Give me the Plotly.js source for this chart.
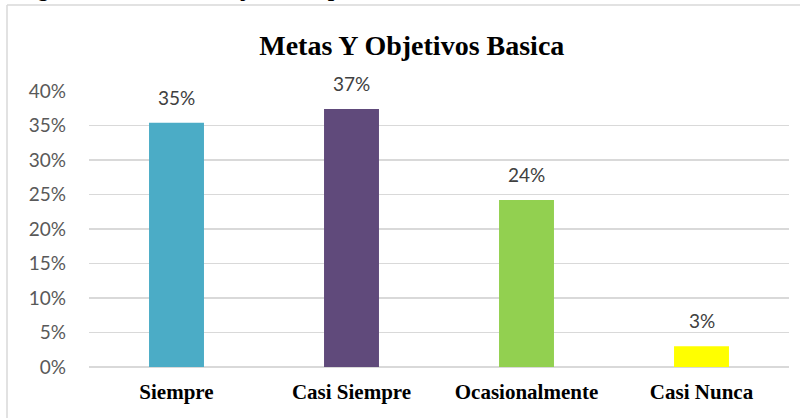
<!DOCTYPE html>
<html>
<head>
<meta charset="utf-8">
<script src="https://cdn.plot.ly/plotly-3.0.1.min.js"></script>
<style>html,body{margin:0;padding:0;background:#fff;}#chart{width:809px;height:418px;}</style>
</head>
<body>
<div id="chart"></div>
<script>
const categories = ["Siempre", "Casi Siempre", "Ocasionalmente", "Casi Nunca"];
const values = [0.354, 0.374, 0.242, 0.03];
const valueLabels = ["35%", "37%", "24%", "3%"];
const barColors = ["#4BACC6", "#604A7B", "#92D050", "#FFFF00"];
const yTickVals = [0, 0.05, 0.10, 0.15, 0.20, 0.25, 0.30, 0.35, 0.40];
const yTickText = ["0%", "5%", "10%", "15%", "20%", "25%", "30%", "35%", "40%"];
const chartTitle = "Metas Y Objetivos Basica";
const captionText = "Figura 10. Metas Y Objetivos – primaria";

const trace = {
  type: "bar",
  x: categories,
  y: values,
  marker: {color: barColors, line: {width: 0}},
  hoverinfo: "skip"
};

const labelAnnotations = categories.map((c, i) => ({
  x: c, y: values[i], xref: "x", yref: "y",
  text: valueLabels[i], showarrow: false,
  yanchor: "bottom", yshift: 12,
  font: {family: "Lato, 'Open Sans', sans-serif", size: 19, color: "#404040"}
}));

const layout = {
  width: 809, height: 418,
  margin: {l: 89, r: 20, t: 91, b: 51},
  paper_bgcolor: "#ffffff",
  plot_bgcolor: "#ffffff",
  showlegend: false,
  bargap: 0.686,
  title: {
    text: "<b>" + chartTitle + "</b>",
    font: {family: "'Liberation Serif', 'Times New Roman', serif", size: 28, color: "#000000"},
    xref: "container", x: 0.509, xanchor: "center",
    yref: "container", y: 1 - 45/418, yanchor: "middle"
  },
  xaxis: {
    type: "category",
    showgrid: false,
    showline: false,
    zeroline: false,
    ticks: "",
    tickfont: {family: "'Liberation Serif', 'Times New Roman', serif", size: 21, color: "#000000", weight: "bold"},
    ticklabelstandoff: 10
  },
  yaxis: {
    range: [0, 0.40],
    tickvals: yTickVals,
    ticktext: yTickText,
    showgrid: true,
    gridcolor: "#d9d9d9",
    gridwidth: 1.5,
    zeroline: true,
    zerolinecolor: "#d9d9d9",
    zerolinewidth: 1.5,
    showline: false,
    ticks: "",
    ticklabelstandoff: 22,
    tickfont: {family: "Lato, 'Open Sans', sans-serif", size: 19, color: "#595959"}
  },
  shapes: [
    {type: "line", xref: "paper", yref: "paper",
     x0: (7 - 89)/700, x1: (800 - 89)/700, y0: (367 - 5)/276, y1: (367 - 5)/276,
     line: {color: "#d9d9d9", width: 1.5}},
    {type: "line", xref: "paper", yref: "paper",
     x0: (7 - 89)/700, x1: (7 - 89)/700, y0: (367 - 5)/276, y1: (367 - 430)/276,
     line: {color: "#d9d9d9", width: 1.5}}
  ],
  annotations: labelAnnotations.concat([{
    xref: "paper", yref: "paper",
    x: (15 - 89)/700, xanchor: "left",
    y: 367/276, yanchor: "bottom", yshift: -3,
    text: "<b>" + captionText + "</b>", showarrow: false,
    font: {family: "'Liberation Serif', 'Times New Roman', serif", size: 23, color: "#000000"}
  }])
};

Plotly.newPlot("chart", [trace], layout, {displayModeBar: false, staticPlot: true});
</script>
</body>
</html>
